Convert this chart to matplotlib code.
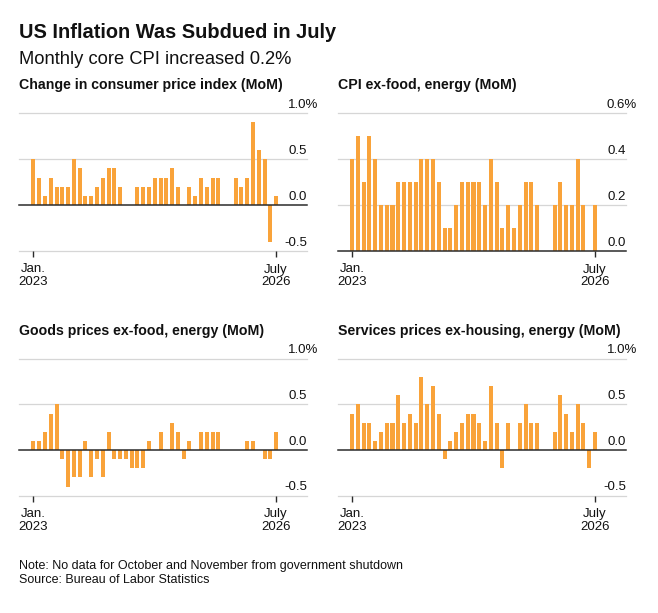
import numpy as np
import matplotlib
matplotlib.use("Agg")
import matplotlib.pyplot as plt
from matplotlib.transforms import offset_copy

plt.rcParams['font.family'] = ['Liberation Sans', 'DejaVu Sans']

nan = np.nan
# Monthly values, Jan 2023 .. July 2026 (Oct/Nov 2025 missing)
cpi_headline = [0.5, 0.3, 0.1, 0.3, 0.2, 0.2, 0.2, 0.5, 0.4, 0.1, 0.1, 0.2,
                0.3, 0.4, 0.4, 0.2, 0.0, 0.0, 0.2, 0.2, 0.2, 0.3, 0.3, 0.3,
                0.4, 0.2, 0.0, 0.2, 0.1, 0.3, 0.2, 0.3, 0.3, nan, nan, 0.3,
                0.2, 0.3, 0.9, 0.6, 0.5, -0.4, 0.1]
cpi_core = [0.4, 0.5, 0.3, 0.5, 0.4, 0.2, 0.2, 0.2, 0.3, 0.3, 0.3, 0.3,
            0.4, 0.4, 0.4, 0.3, 0.1, 0.1, 0.2, 0.3, 0.3, 0.3, 0.3, 0.2,
            0.4, 0.3, 0.1, 0.2, 0.1, 0.2, 0.3, 0.3, 0.2, nan, nan, 0.2,
            0.3, 0.2, 0.2, 0.4, 0.2, 0.0, 0.2]
goods_core = [0.1, 0.1, 0.2, 0.4, 0.5, -0.1, -0.4, -0.3, -0.3, 0.1, -0.3, -0.1,
              -0.3, 0.2, -0.1, -0.1, -0.1, -0.2, -0.2, -0.2, 0.1, 0.0, 0.2, 0.0,
              0.3, 0.2, -0.1, 0.1, 0.0, 0.2, 0.2, 0.2, 0.2, nan, nan, 0.0,
              0.0, 0.1, 0.1, 0.0, -0.1, -0.1, 0.2]
services_supercore = [0.4, 0.5, 0.3, 0.3, 0.1, 0.2, 0.3, 0.3, 0.6, 0.3, 0.4, 0.3,
                      0.8, 0.5, 0.7, 0.4, -0.1, 0.1, 0.2, 0.3, 0.4, 0.4, 0.3, 0.1,
                      0.7, 0.3, -0.2, 0.3, 0.0, 0.3, 0.5, 0.3, 0.3, nan, nan, 0.2,
                      0.6, 0.4, 0.2, 0.5, 0.3, -0.2, 0.2]

panel_titles = ["Change in consumer price index (MoM)",
                "CPI ex-food, energy (MoM)",
                "Goods prices ex-food, energy (MoM)",
                "Services prices ex-housing, energy (MoM)"]
x_tick_labels = ["Jan.\n2023", "July\n2026"]
y_ticks_a = [-0.5, 0.0, 0.5, 1.0]
y_ticks_b = [0.0, 0.2, 0.4, 0.6]

title = "US Inflation Was Subdued in July"
subtitle = "Monthly core CPI increased 0.2%"
note = "Note: No data for October and November from government shutdown"
source = "Source: Bureau of Labor Statistics"

ORANGE = "#F9A33A"
GRID = "#d6d6d6"
ZERO = "#2b2b2b"
TXT = "#111111"

W, H = 658, 613
fig = plt.figure(figsize=(W / 100, H / 100), dpi=100)


def axes_px(x0, y0, x1, y1):
    return fig.add_axes([x0 / W, 1 - y1 / H, (x1 - x0) / W, (y1 - y0) / H])


def panel(rect, values, yticks, ptitle, title_y):
    ax = axes_px(*rect)
    n = len(values)
    idx = np.arange(n)
    vals = np.array(values, dtype=float)
    ax.bar(idx, np.nan_to_num(vals), width=0.7, color=ORANGE, zorder=3)
    ax.set_xlim(-2.5, (n - 1) + 5.35)
    ax.set_ylim(yticks[0], yticks[-1])
    for s in ax.spines.values():
        s.set_visible(False)
    for t in yticks:
        col = ZERO if t == 0 else GRID
        lw = 1.1 if t == 0 else 0.9
        ax.axhline(t, color=col, lw=lw, zorder=4 if t == 0 else 1, clip_on=False)
    ax.set_yticks([])
    ax.set_xticks([0, n - 1])
    ax.set_xticklabels(x_tick_labels, fontsize=9.5, color=TXT, linespacing=1.05)
    ax.tick_params(axis='x', length=4, width=1, color=ZERO, pad=5)
    tr = offset_copy(ax.get_yaxis_transform(), fig=fig, x=0, y=2.5, units='dots')
    tr_pct = offset_copy(ax.get_yaxis_transform(), fig=fig, x=11, y=2.5, units='dots')
    for i, t in enumerate(yticks):
        lab = f"{t:.1f}"
        if i == len(yticks) - 1:
            ax.text(1.0, t, lab + "%", transform=tr_pct, ha='right', va='bottom',
                    fontsize=9.5, color=TXT)
        else:
            ax.text(1.0, t, lab, transform=tr, ha='right', va='bottom',
                    fontsize=9.5, color=TXT)
    fig.text(rect[0] / W, 1 - title_y / H, ptitle, fontsize=10.2, weight='bold',
             color=TXT, va='center', ha='left')
    return ax


panel((19, 113.3, 307, 251), cpi_headline, y_ticks_a, panel_titles[0], 85)
panel((337.5, 113.3, 626, 251), cpi_core, y_ticks_b, panel_titles[1], 85)
panel((19, 358.7, 307, 495.7), goods_core, y_ticks_a, panel_titles[2], 330.5)
panel((337.5, 358.7, 626, 495.7), services_supercore, y_ticks_a, panel_titles[3], 330.5)

fig.text(19 / W, 1 - 32 / H, title, fontsize=14.4, weight='bold', color=TXT,
         va='center', ha='left')
fig.text(19 / W, 1 - 60 / H, subtitle, fontsize=13.2, color=TXT,
         va='center', ha='left')
fig.text(19 / W, 1 - 566 / H, note, fontsize=9, color=TXT, va='center', ha='left')
fig.text(19 / W, 1 - 580 / H, source, fontsize=9, color=TXT, va='center', ha='left')

fig.savefig("out.png", dpi=100, facecolor='white')
